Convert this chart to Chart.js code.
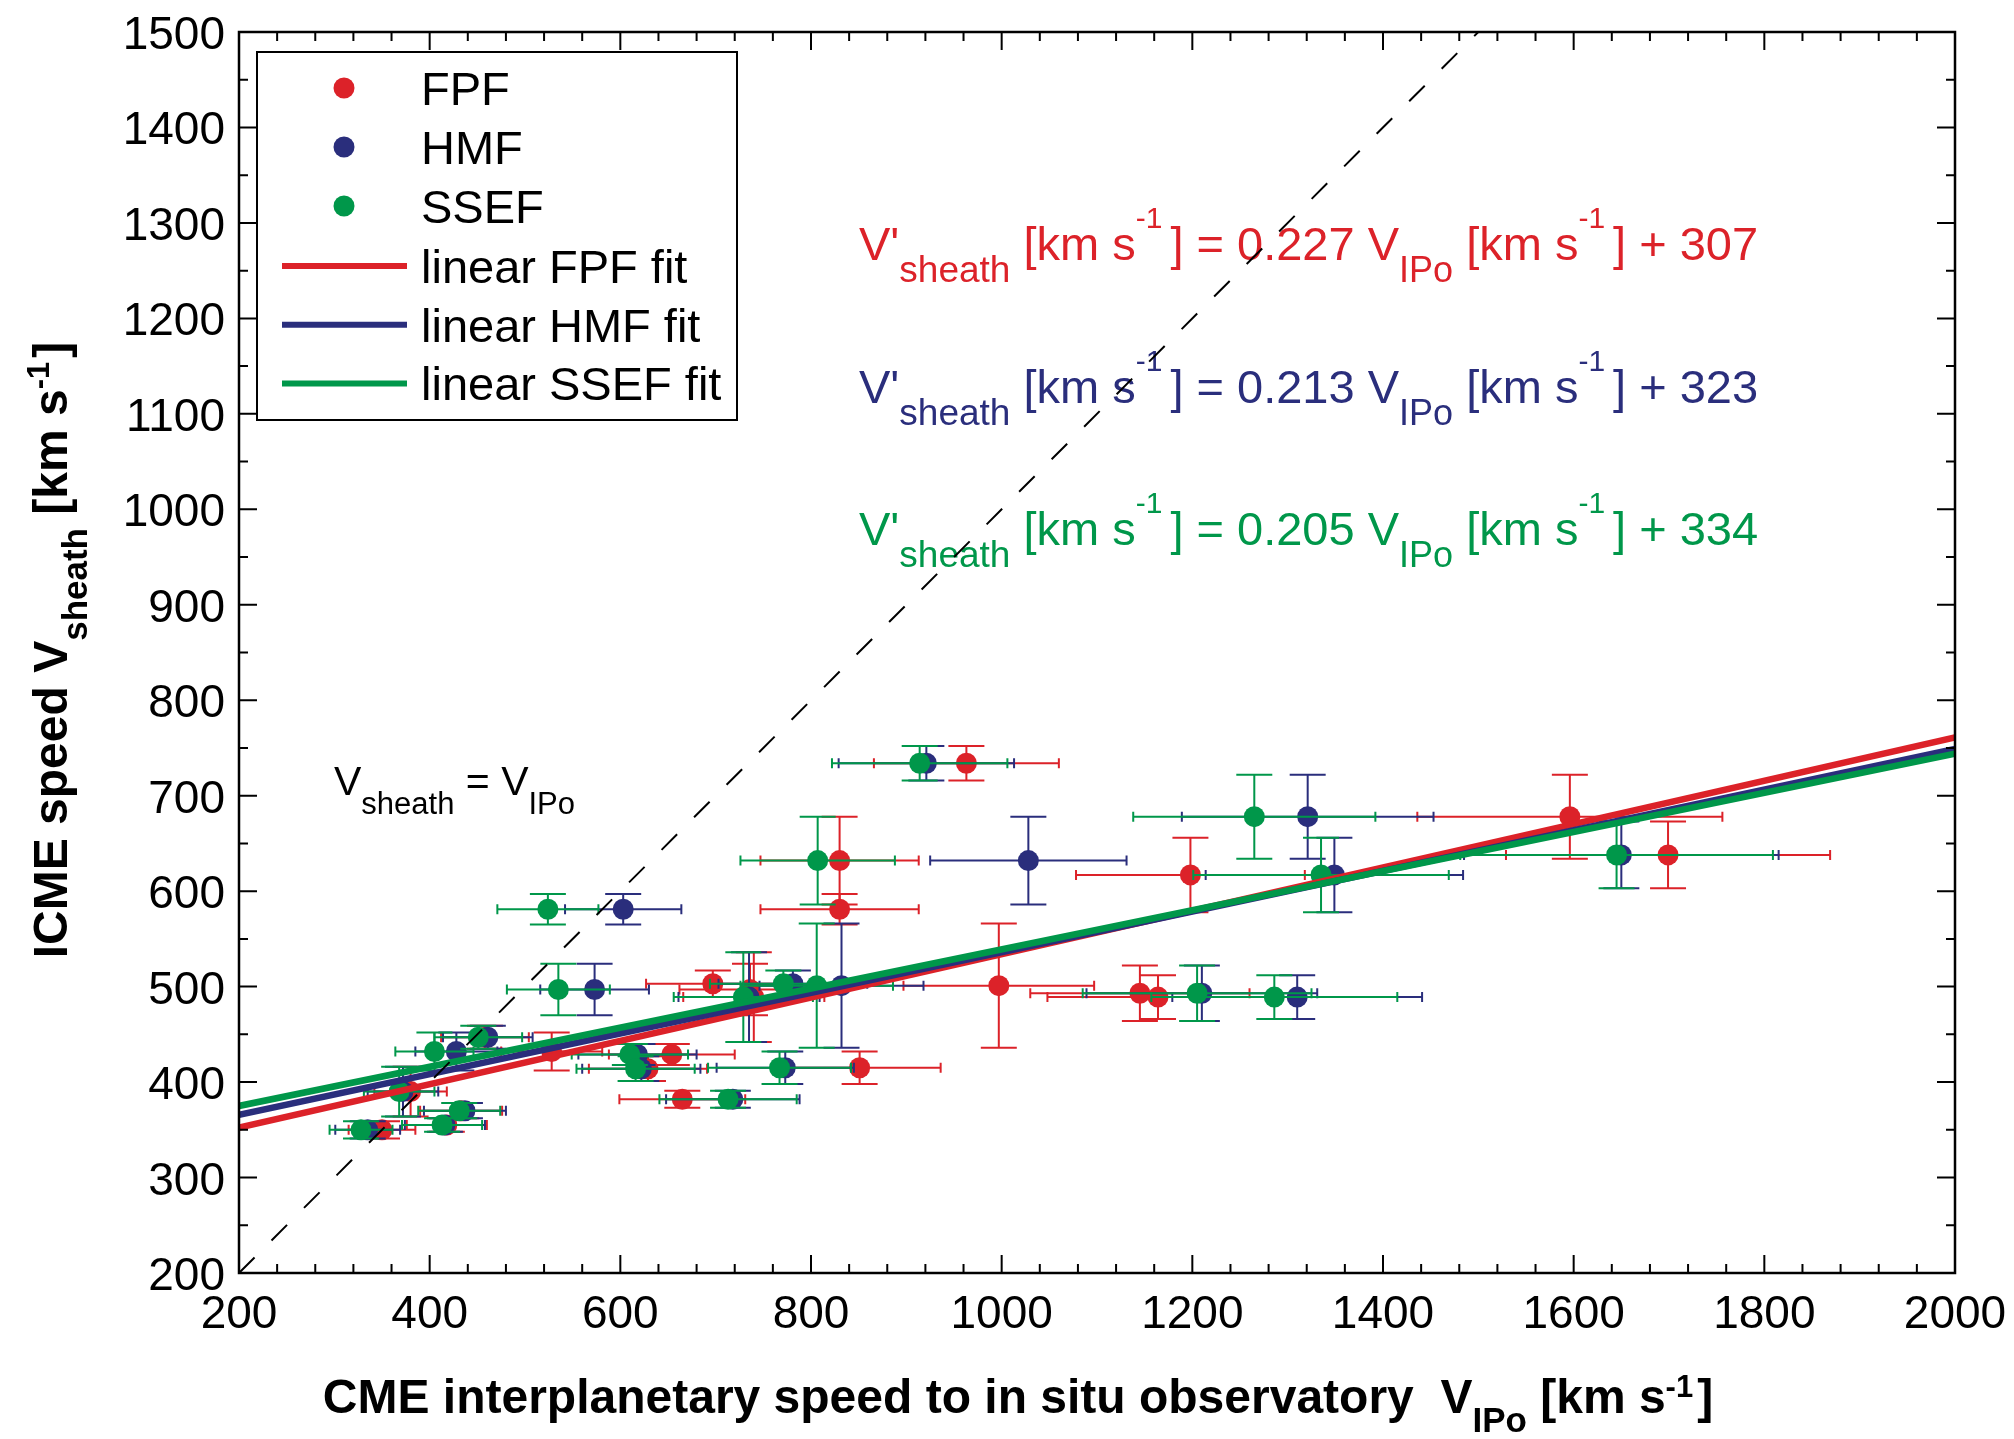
<!DOCTYPE html>
<html>
<head>
<meta charset="utf-8">
<script src="https://cdn.jsdelivr.net/npm/chart.js@4.4.1/dist/chart.umd.min.js"></script>
<style>
  html, body { margin: 0; padding: 0; background: #fff; }
  #wrap { width: 2014px; height: 1439px; }
</style>
</head>
<body>
<div id="wrap"><canvas id="chart" width="2014" height="1439"></canvas></div>
<script>
// in situ sheath speed per event (same for all three methods) and its error
const sheathSpeed = [734, 632, 581, 497, 501, 503, 678, 617, 638, 489, 447, 429, 432, 415, 414, 382, 370, 355, 350, 390, 493, 489];
const sheathErr   = [18, 46, 16, 27, 65, 14, 44, 39, 35, 47, 12, 11, 20, 17, 13, 9, 8, 7, 9, 26, 29, 23];

// interplanetary speed V_IPo per method, with errors
const fpfSpeed  = [963, 830, 830, 736, 997, 697, 1596, 1198, 1699, 740, 458, 654, 528, 851, 629, 665, 433, 418, 350, 380, 1145, 1164];
const fpfErr    = [97, 83, 83, 74, 100, 70, 160, 120, 170, 74, 46, 66, 53, 85, 62, 66, 43, 42, 35, 38, 115, 116];
const hmfSpeed  = [921, 1028, 603, 573, 832, 781, 1321, 1349, 1650, 735, 461, 618, 428, 773, 622, 718, 437, 416, 335, 372, 1210, 1310];
const hmfErr    = [92, 103, 61, 57, 86, 78, 132, 135, 165, 74, 47, 62, 43, 72, 62, 70, 43, 42, 34, 37, 121, 131];
const ssefSpeed = [914, 807, 524, 535, 806, 771, 1265, 1335, 1645, 729, 451, 610, 405, 767, 616, 713, 431, 413, 328, 368, 1205, 1286];
const ssefErr   = [92, 81, 53, 54, 80, 77, 127, 134, 164, 73, 46, 61, 41, 75, 62, 72, 43, 42, 33, 37, 120, 129];

const methods = ["FPF", "HMF", "SSEF"];
const fitSlope = [0.227, 0.213, 0.205];
const fitIntercept = [307, 323, 334];

const xTickLabels = [200, 400, 600, 800, 1000, 1200, 1400, 1600, 1800, 2000];
const yTickLabels = [200, 300, 400, 500, 600, 700, 800, 900, 1000, 1100, 1200, 1300, 1400, 1500];

const colors = ["#dc2229", "#2a2e7c", "#00974a"];
const speeds = [fpfSpeed, hmfSpeed, ssefSpeed];
const speedErrs = [fpfErr, hmfErr, ssefErr];
const FONT = '"Liberation Sans", Arial, Helvetica, sans-serif';

// draws text pieces one after another (for sub/superscripts)
function richWidth(ctx, parts, bold) {
  let w = 0;
  parts.forEach(p => {
    ctx.font = (bold ? "bold " : "") + p.s + "px " + FONT;
    w += ctx.measureText(p.t).width + (p.gap || 0);
  });
  return w;
}
function drawRich(ctx, x, y, parts, bold) {
  parts.forEach(p => {
    ctx.font = (bold ? "bold " : "") + p.s + "px " + FONT;
    ctx.fillText(p.t, x, y + (p.dy || 0));
    x += ctx.measureText(p.t).width + (p.gap || 0);
  });
}

const errorBars = {
  id: "errorBars",
  beforeDatasetDraw(chart, args) {
    const i = args.index;
    if (i > 2) return;
    const { ctx, scales: { x, y } } = chart;
    ctx.save();
    ctx.strokeStyle = colors[i];
    ctx.lineWidth = 2;
    speeds[i].forEach((v, k) => {
      const px = x.getPixelForValue(v);
      const py = y.getPixelForValue(sheathSpeed[k]);
      const x0 = x.getPixelForValue(v - speedErrs[i][k]);
      const x1 = x.getPixelForValue(v + speedErrs[i][k]);
      const y0 = y.getPixelForValue(sheathSpeed[k] - sheathErr[k]);
      const y1 = y.getPixelForValue(sheathSpeed[k] + sheathErr[k]);
      ctx.beginPath();
      ctx.moveTo(x0, py); ctx.lineTo(x1, py);
      ctx.moveTo(x0, py - 5); ctx.lineTo(x0, py + 5);
      ctx.moveTo(x1, py - 5); ctx.lineTo(x1, py + 5);
      ctx.moveTo(px, y0); ctx.lineTo(px, y1);
      ctx.moveTo(px - 18, y0); ctx.lineTo(px + 18, y0);
      ctx.moveTo(px - 18, y1); ctx.lineTo(px + 18, y1);
      ctx.stroke();
    });
    ctx.restore();
  }
};

const annotations = {
  id: "annotations",
  beforeDatasetsDraw(chart) {
    const ctx = chart.ctx;
    ctx.save();
    ctx.textAlign = "left";
    ctx.textBaseline = "alphabetic";
    // fit equations
    methods.forEach((m, i) => {
      ctx.fillStyle = colors[i];
      drawRich(ctx, 859, 260 + i * 142.5, [
        { t: "V'", s: 47 },
        { t: "sheath", s: 37, dy: 22 },
        { t: " [km s", s: 47 },
        { t: "-1", s: 30, dy: -32, gap: 8 },
        { t: "] = " + fitSlope[i].toFixed(3) + " V", s: 47 },
        { t: "IPo", s: 36, dy: 22 },
        { t: " [km s", s: 47 },
        { t: "-1", s: 30, dy: -32, gap: 8 },
        { t: "] + " + fitIntercept[i], s: 47 }
      ]);
    });
    // identity line label
    ctx.fillStyle = "#000";
    drawRich(ctx, 334, 795, [
      { t: "V", s: 41 },
      { t: "sheath", s: 31, dy: 19 },
      { t: " = V", s: 41 },
      { t: "IPo", s: 31, dy: 19 }
    ]);
    ctx.restore();
  }
};

const frame = {
  id: "frame",
  afterDraw(chart) {
    const { ctx, chartArea: a, scales: { x, y } } = chart;
    ctx.save();
    ctx.strokeStyle = "#000";
    ctx.fillStyle = "#000";

    // inward ticks on all four sides
    ctx.lineWidth = 2;
    ctx.beginPath();
    const xStep = (xTickLabels[1] - xTickLabels[0]) / 5;
    for (let v = xTickLabels[0]; v <= xTickLabels[xTickLabels.length - 1]; v += xStep) {
      const len = xTickLabels.includes(v) ? 18 : 9;
      const px = x.getPixelForValue(v);
      ctx.moveTo(px, a.bottom); ctx.lineTo(px, a.bottom - len);
      ctx.moveTo(px, a.top); ctx.lineTo(px, a.top + len);
    }
    const yStep = (yTickLabels[1] - yTickLabels[0]) / 2;
    for (let v = yTickLabels[0]; v <= yTickLabels[yTickLabels.length - 1]; v += yStep) {
      const len = yTickLabels.includes(v) ? 18 : 9;
      const py = y.getPixelForValue(v);
      ctx.moveTo(a.left, py); ctx.lineTo(a.left + len, py);
      ctx.moveTo(a.right, py); ctx.lineTo(a.right - len, py);
    }
    ctx.stroke();

    ctx.lineWidth = 2.5;
    ctx.strokeRect(a.left, a.top, a.right - a.left, a.bottom - a.top);

    // tick labels
    ctx.font = "46px " + FONT;
    ctx.textBaseline = "alphabetic";
    ctx.textAlign = "center";
    xTickLabels.forEach(v => ctx.fillText(String(v), x.getPixelForValue(v), 1328));
    ctx.textAlign = "right";
    yTickLabels.forEach(v => ctx.fillText(String(v), a.left - 14, y.getPixelForValue(v) + 17));

    // axis titles
    ctx.textAlign = "left";
    const xTitle = [
      { t: "CME interplanetary speed to in situ observatory  V", s: 48 },
      { t: "IPo", s: 35, dy: 19 },
      { t: " [km s", s: 48 },
      { t: "-1", s: 31, dy: -16, gap: 4 },
      { t: "]", s: 48 }
    ];
    drawRich(ctx, 1018 - richWidth(ctx, xTitle, true) / 2, 1413, xTitle, true);

    const yTitle = [
      { t: "ICME speed V", s: 48 },
      { t: "sheath", s: 35, dy: 20 },
      { t: " [km s", s: 48 },
      { t: "-1", s: 31, dy: -18, gap: 4 },
      { t: "]", s: 48 }
    ];
    ctx.save();
    ctx.translate(67, 650);
    ctx.rotate(-Math.PI / 2);
    drawRich(ctx, -richWidth(ctx, yTitle, true) / 2, 0, yTitle, true);
    ctx.restore();

    // legend
    ctx.fillStyle = "#fff";
    ctx.fillRect(257, 52, 480, 368);
    ctx.lineWidth = 2;
    ctx.strokeStyle = "#000";
    ctx.strokeRect(257, 52, 480, 368);
    ctx.font = "47px " + FONT;
    methods.forEach((m, i) => {
      const cy = 88 + i * 59;
      ctx.fillStyle = colors[i];
      ctx.beginPath();
      ctx.arc(344, cy, 10.5, 0, Math.PI * 2);
      ctx.fill();
      ctx.fillStyle = "#000";
      ctx.fillText(m, 421, cy + 17);
    });
    methods.forEach((m, i) => {
      const cy = 266 + i * 58.7;
      ctx.strokeStyle = colors[i];
      ctx.lineWidth = 6;
      ctx.beginPath();
      ctx.moveTo(282, cy); ctx.lineTo(407, cy);
      ctx.stroke();
      ctx.fillStyle = "#000";
      ctx.fillText("linear " + m + " fit", 421, cy + 17);
    });
    ctx.restore();
  }
};

const xMin = xTickLabels[0], xMax = xTickLabels[xTickLabels.length - 1];
const yMin = yTickLabels[0], yMax = yTickLabels[yTickLabels.length - 1];

const datasets = [];
methods.forEach((m, i) => {
  datasets.push({
    label: m,
    data: speeds[i].map((v, k) => ({ x: v, y: sheathSpeed[k] })),
    backgroundColor: colors[i],
    pointRadius: 10.5,
    pointBorderWidth: 0,
    order: 6 - i
  });
});
methods.forEach((m, i) => {
  datasets.push({
    label: "linear " + m + " fit",
    data: [xMin, xMax].map(v => ({ x: v, y: fitSlope[i] * v + fitIntercept[i] })),
    showLine: true,
    borderColor: colors[i],
    borderWidth: 6.5,
    pointRadius: 0,
    order: 3 - i
  });
});
datasets.push({
  label: "identity",
  data: [{ x: yMin, y: yMin }, { x: yMax, y: yMax }],
  showLine: true,
  borderColor: "#000",
  borderWidth: 2,
  borderDash: [22, 24],
  pointRadius: 0,
  order: 0
});

new Chart(document.getElementById("chart"), {
  type: "scatter",
  data: { datasets },
  options: {
    responsive: false,
    devicePixelRatio: 1,
    animation: false,
    events: [],
    layout: { padding: { left: 239, right: 59, top: 32, bottom: 166 } },
    scales: {
      x: { type: "linear", min: xMin, max: xMax, display: false },
      y: { type: "linear", min: yMin, max: yMax, display: false }
    },
    plugins: { legend: { display: false }, tooltip: { enabled: false } }
  },
  plugins: [errorBars, annotations, frame]
});
</script>
</body>
</html>
